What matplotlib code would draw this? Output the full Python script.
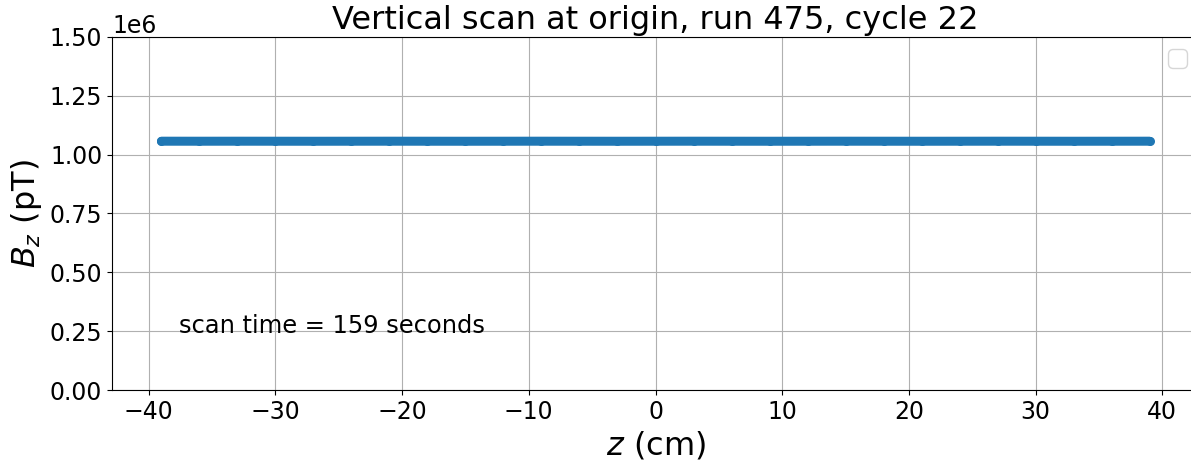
import matplotlib
matplotlib.use("Agg")
import matplotlib.pyplot as plt
from matplotlib.ticker import MultipleLocator

# Scan positions (cm) and measured field (pT)
z_cm = [-39, -36, -33, -30, -27, -24, -21, -18, -15, -12, -9, -6, -3, 0,
        3, 6, 9, 12, 15, 18, 21, 24, 27, 30, 33, 36, 39]
bz_pT = [1.0572e6, 1.0571e6, 1.0572e6, 1.0571e6, 1.0570e6, 1.0571e6, 1.0572e6,
         1.0571e6, 1.0570e6, 1.0571e6, 1.0572e6, 1.0571e6, 1.0570e6, 1.0571e6,
         1.0572e6, 1.0571e6, 1.0570e6, 1.0571e6, 1.0572e6, 1.0571e6, 1.0570e6,
         1.0571e6, 1.0572e6, 1.0571e6, 1.0570e6, 1.0571e6, 1.0572e6]
scan_time = 159
run, cycle = 475, 22

fig = plt.figure(figsize=(11.91, 4.69), dpi=100)
ax = fig.add_axes([112 / 1191, (469 - 390) / 469, 1087 / 1191, 353 / 469])

# markers joined by an equally thick line so the scan looks continuous
ax.plot(z_cm, bz_pT, 'o-', color='tab:blue', markersize=6.5, markeredgewidth=0,
        linewidth=6.5, solid_capstyle='round')
ax.set_ylim(0, 1.5e6)
ax.yaxis.set_major_locator(MultipleLocator(0.25e6))
ax.grid(True)
ax.set_xlabel(r'$z$ (cm)', fontsize=23)
ax.set_ylabel(r'$B_z$ (pT)', fontsize=23)
ax.set_title(f'Vertical scan at origin, run {run}, cycle {cycle}', fontsize=23)
ax.tick_params(labelsize=17)
ax.yaxis.get_offset_text().set_fontsize(17)
ax.text(-37.6, 0.27e6, f'scan time = {scan_time} seconds', fontsize=17.4, va='center')
ax.legend(loc='upper right', fontsize=17)

fig.savefig('out.png', dpi=100)
